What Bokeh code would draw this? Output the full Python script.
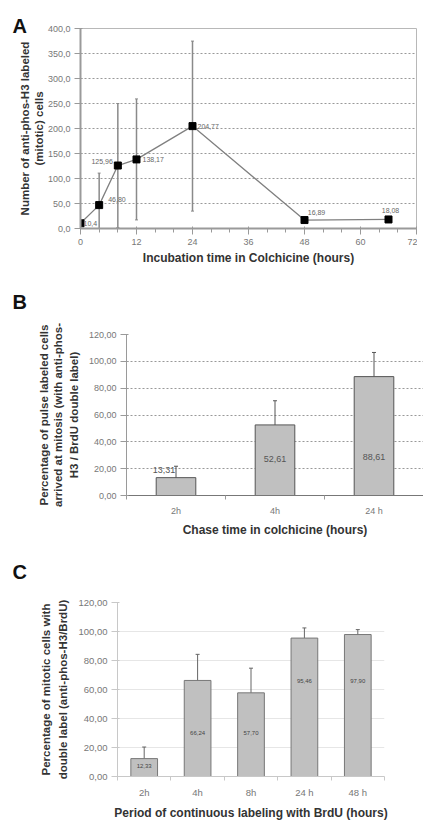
from bokeh.plotting import figure
from bokeh.models import (ColumnDataSource, FixedTicker, Whisker, TeeHead, LabelSet, Title, Range1d)
from bokeh.layouts import column
from bokeh.embed import file_html
from bokeh.resources import INLINE
from bokeh.core.properties import value
import numpy as np

# ---------------- data ----------------
a_hours = [0, 4, 8, 12, 24, 48, 66]
a_counts = [10.4, 46.80, 125.96, 138.17, 204.77, 16.89, 18.08]
a_err = [4, 64, 124, 121, 170, 3, 3]
a_text = ["10,4", "46,80", "125,96", "138,17", "204,77", "16,89", "18,08"]

b_cats = ["2h", "4h", "24 h"]
b_vals = [13.31, 52.61, 88.61]
b_err = [8.5, 18, 18]
b_text = ["13,31", "52,61", "88,61"]
b_text_y = [19, 27, 29]

c_cats = ["2h", "4h", "8h", "24 h", "48 h"]
c_vals = [12.33, 66.24, 57.70, 95.46, 97.90]
c_err = [8, 18, 17, 7, 3.4]
c_text = ["12,33", "66,24", "57,70", "95,46", "97,90"]
c_text_y = [7, 30, 30, 66, 66]

a_yticks = [0, 50, 100, 150, 200, 250, 300, 350, 400]
a_xticks = [0, 12, 24, 36, 48, 60, 72]
bc_yticks = [0, 20, 40, 60, 80, 100, 120]

# ---------------- style ----------------
FONT = "Liberation Sans"
TICK_COL = "#777777"
TITLE_COL = "#333333"
BAR_FILL = "#c0c0c0"
BAR_LINE = "#555555"


def style_axes(p, tick_size="9px", title_size="12px"):
    for ax in (p.xaxis[0], p.yaxis[0]):
        ax.major_label_text_font = FONT
        ax.major_label_text_font_size = tick_size
        ax.major_label_text_color = TICK_COL
        ax.axis_label_text_font = FONT
        ax.axis_label_text_font_size = title_size
        ax.axis_label_text_font_style = "bold"
        ax.axis_label_text_color = TITLE_COL
        ax.axis_label_standoff = 6
        ax.major_label_standoff = 4
        ax.axis_line_color = "#9a9a9a"
        ax.major_tick_line_color = "#9a9a9a"
        ax.minor_tick_line_color = "#9a9a9a"
    p.background_fill_color = "white"
    p.border_fill_color = "white"


def y_title(p, lines, size="11.5px", inner_gap=0):
    # innermost line added first; inner_gap pushes the whole block outward
    for i, ln in enumerate(reversed(lines)):
        if i == 0 and inner_gap:
            t = Title(text=ln, align="center", vertical_align="top", standoff=inner_gap)
        else:
            t = Title(text=ln, align="center", standoff=0)
        t.text_font = FONT
        t.text_font_size = size
        t.text_font_style = "bold"
        t.text_color = TITLE_COL
        p.add_layout(t, "left")


def letter(p, txt, offset, standoff, valign):
    p.add_layout(Title(text=txt, align="left", offset=offset, standoff=standoff,
                       vertical_align=valign, text_font=FONT, text_font_size="20px",
                       text_font_style="bold", text_color="#111111"), "above")


def make_fig(**kw):
    return figure(output_backend="svg", toolbar_location=None, frame_align=False, **kw)


# ---------------- panel A ----------------
pa = make_fig(width=417, height=268, x_range=Range1d(0, 72), y_range=Range1d(0, 400),
              min_border_left=80, min_border_right=1, min_border_top=28, min_border_bottom=40)
style_axes(pa)
pa.outline_line_color = "#b8b8b8"
pa.xgrid.grid_line_color = None
pa.ygrid.grid_line_color = "#999999"
pa.ygrid.grid_line_dash = "2 2"
pa.xaxis.ticker = FixedTicker(ticks=a_xticks, minor_ticks=list(range(0, 73, 4)))
pa.yaxis.ticker = FixedTicker(ticks=a_yticks)
pa.yaxis.major_label_overrides = {t: f"{t:.1f}".replace(".", ",") for t in a_yticks}
pa.xaxis.axis_label = "Incubation time in Colchicine (hours)"
pa.xaxis.axis_label_standoff = 3
pa.xaxis.axis_line_width = 2
pa.yaxis.axis_line_width = 2
y_title(pa, ["Number of anti-phos-H3 labeled", "(mitotic) cells"])

a_up = np.array(a_counts) + np.array(a_err)
a_lo = np.clip(np.array(a_counts) - np.array(a_err), 0, None)
srcA = ColumnDataSource(dict(x=a_hours, y=a_counts, up=a_up, lo=a_lo, t=a_text,
                             dx=[3, 9, -5, 6, 5, 12, 2], dy=[0, 6, 4, 0, 0, 8, 9],
                             al=["left", "left", "right", "left", "left", "center", "center"]))
pa.add_layout(Whisker(source=srcA, base="x", upper="up", lower="lo",
                      line_color="#8a8a8a", line_width=1.5,
                      upper_head=TeeHead(size=3, line_color="#8a8a8a"),
                      lower_head=TeeHead(size=3, line_color="#8a8a8a")))
pa.line("x", "y", source=srcA, line_color="#808080", line_width=1.3)
pa.scatter("x", "y", source=srcA, marker="square", size=7, color="black")
pa.add_layout(LabelSet(x="x", y="y", text="t", source=srcA, x_offset="dx", y_offset="dy",
                       text_align="al", text_baseline="middle",
                       text_font=value(FONT), text_font_size="7px", text_color="#666666"))
letter(pa, "A", -68, -16, "bottom")

# ---------------- panel B ----------------
b_x = np.arange(len(b_cats)) + 0.5
pb = make_fig(width=423, height=271, x_range=Range1d(0, 3), y_range=Range1d(0, 120),
              min_border_left=126, min_border_right=0, min_border_top=66, min_border_bottom=43)
style_axes(pb)
pb.outline_line_color = None
pb.xgrid.grid_line_color = None
pb.ygrid.grid_line_color = "#999999"
pb.ygrid.grid_line_dash = "2 2"
pb.xaxis.axis_line_color = "#777777"
pb.xaxis.ticker = FixedTicker(ticks=list(b_x), minor_ticks=[0, 1, 2, 3])
pb.xaxis.major_label_overrides = {float(x): c for x, c in zip(b_x, b_cats)}
pb.xaxis.major_tick_line_color = None
pb.xaxis.minor_tick_in = 0
pb.xaxis.minor_tick_out = 4
pb.yaxis.ticker = FixedTicker(ticks=bc_yticks)
pb.yaxis.major_label_overrides = {t: f"{t:.2f}".replace(".", ",") for t in bc_yticks}
pb.xaxis.axis_label = "Chase time in colchicine (hours)"
pb.xaxis.axis_label_standoff = 4
y_title(pb, ["Percentage of pulse labeled cells",
             "arrived at mitosis (with anti-phos-",
             "H3 / BrdU double label)"], inner_gap=8)
srcB = ColumnDataSource(dict(x=b_x, top=b_vals, up=np.array(b_vals) + np.array(b_err),
                             lo=np.array(b_vals) - np.array(b_err), t=b_text, ty=b_text_y,
                             dx=[-12, 0, 0]))
pb.vbar(x="x", top="top", width=0.40, source=srcB, fill_color=BAR_FILL, line_color=BAR_LINE)
pb.add_layout(Whisker(source=srcB, base="x", upper="up", lower="lo", line_color="#555555",
                      upper_head=TeeHead(size=4, line_color="#555555"),
                      lower_head=TeeHead(size=4, line_color="#555555")))
pb.add_layout(LabelSet(x="x", y="ty", text="t", source=srcB, x_offset="dx", text_align="center",
                       text_baseline="middle", text_font=value(FONT), text_font_size="9px",
                       text_color="#555555"))
letter(pb, "B", -114, 40, "top")

# ---------------- panel C ----------------
c_x = np.arange(len(c_cats)) + 0.5
pc = make_fig(width=423, height=283, x_range=Range1d(0, 5), y_range=Range1d(0, 120),
              min_border_left=117, min_border_right=39, min_border_top=63, min_border_bottom=46)
style_axes(pc, tick_size="9.5px", title_size="12px")
pc.outline_line_color = None
pc.xgrid.grid_line_color = None
pc.ygrid.grid_line_color = "#e6e6e6"
pc.xaxis.axis_line_color = "#c8c8c8"
pc.yaxis.axis_line_color = "#c8c8c8"
pc.yaxis.major_tick_line_color = "#c8c8c8"
pc.xaxis.ticker = FixedTicker(ticks=list(c_x), minor_ticks=[0, 1, 2, 3, 4, 5])
pc.xaxis.major_label_overrides = {float(x): c for x, c in zip(c_x, c_cats)}
pc.xaxis.major_tick_line_color = None
pc.xaxis.minor_tick_in = 0
pc.xaxis.minor_tick_out = 4
pc.xaxis.minor_tick_line_color = "#c8c8c8"
pc.xaxis.axis_label_standoff = 5
pc.yaxis.ticker = FixedTicker(ticks=bc_yticks)
pc.yaxis.major_label_overrides = {t: f"{t:.2f}".replace(".", ",") for t in bc_yticks}
pc.xaxis.axis_label = "Period of continuous labeling with BrdU (hours)"
y_title(pc, ["Percentage of mitotic cells with", "double label (anti-phos-H3/BrdU)"],
        size="11.5px", inner_gap=10)
srcC = ColumnDataSource(dict(x=c_x, top=c_vals, up=np.array(c_vals) + np.array(c_err),
                             lo=np.array(c_vals) - np.array(c_err), t=c_text, ty=c_text_y))
pc.vbar(x="x", top="top", width=0.5, source=srcC, fill_color=BAR_FILL, line_color="#777777")
pc.add_layout(Whisker(source=srcC, base="x", upper="up", lower="lo", line_color="#666666",
                      upper_head=TeeHead(size=4, line_color="#666666"),
                      lower_head=TeeHead(size=4, line_color="#666666")))
pc.add_layout(LabelSet(x="x", y="ty", text="t", source=srcC, text_align="center",
                       text_baseline="middle", text_font=value(FONT), text_font_size="6px",
                       text_color="#444444"))
letter(pc, "C", -105, 36, "top")

layout = column(pa, pb, pc, spacing=0)
open("out.html", "w").write(file_html(layout, INLINE))
